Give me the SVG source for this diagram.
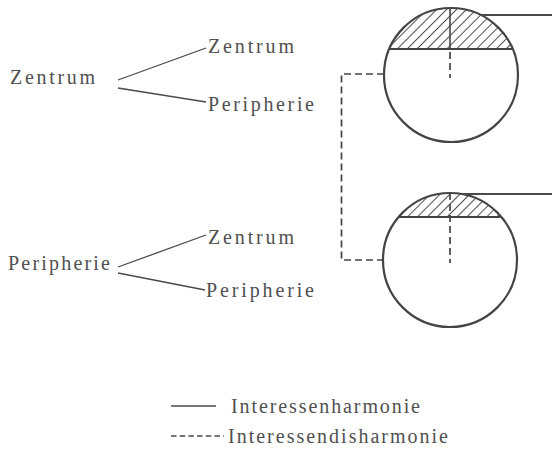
<svg xmlns="http://www.w3.org/2000/svg" width="552" height="451" viewBox="0 0 552 451">
<style>
.t{font-family:"Liberation Serif","Times New Roman",serif;font-size:20px;fill:#505050;}
.ln{stroke:#4a4a4a;stroke-width:1.3;fill:none;}
.circ{stroke:#444;stroke-width:2.2;fill:none;}
.dash{stroke:#444;stroke-width:1.7;fill:none;stroke-dasharray:7 4;}
.chord{stroke:#444;stroke-width:2;fill:none;}
</style>
<defs>
<pattern id="h" patternUnits="userSpaceOnUse" width="7" height="7" patternTransform="rotate(45)">
<line x1="0" y1="0" x2="0" y2="7" stroke="#3c3c3c" stroke-width="1.8"/>
</pattern>
<clipPath id="c1"><circle cx="451" cy="75" r="67"/></clipPath>
<clipPath id="c2"><circle cx="450" cy="260" r="67"/></clipPath>
</defs>
<rect width="552" height="451" fill="#fff"/>

<g id="top-left">
<text class="t" x="10" y="84" textLength="85" lengthAdjust="spacing">Zentrum</text>
</g>
<g id="top-zentrum">
<text class="t" x="208" y="53" textLength="86" lengthAdjust="spacing">Zentrum</text>
</g>
<g id="top-peripherie">
<text class="t" x="208" y="111" textLength="106" lengthAdjust="spacing">Peripherie</text>
</g>
<g id="bottom-left">
<text class="t" x="8" y="270" textLength="102" lengthAdjust="spacing">Peripherie</text>
</g>
<g id="bottom-zentrum">
<text class="t" x="208" y="244" textLength="86" lengthAdjust="spacing">Zentrum</text>
</g>
<g id="bottom-peripherie">
<text class="t" x="206" y="297" textLength="108" lengthAdjust="spacing">Peripherie</text>
</g>

<g id="circle-top">
<rect x="380" y="0" width="140" height="49" fill="url(#h)" clip-path="url(#c1)"/>
<circle class="circ" cx="451" cy="75" r="67"/>
<line class="chord" x1="389" y1="49" x2="513" y2="49"/>
<line class="chord" x1="450" y1="8" x2="450" y2="49" style="stroke-width:1.6"/>
<line class="dash" x1="450" y1="52" x2="450" y2="78"/>
</g>
<g id="circle-bottom">
<rect x="380" y="185" width="140" height="32" fill="url(#h)" clip-path="url(#c2)"/>
<circle class="circ" cx="450" cy="260" r="67"/>
<line class="chord" x1="399" y1="217" x2="501" y2="217"/>
<line class="dash" x1="450" y1="193" x2="450" y2="263"/>
</g>

<g id="connectors">
<line class="ln" x1="118" y1="80" x2="206" y2="48"/>
<line class="ln" x1="118" y1="88" x2="206" y2="102"/>
<line class="ln" x1="118" y1="267" x2="206" y2="235"/>
<line class="ln" x1="118" y1="273" x2="205" y2="290"/>
<line class="ln" x1="481" y1="15" x2="552" y2="15" style="stroke-width:1.8"/>
<line class="ln" x1="462" y1="194" x2="552" y2="194" style="stroke-width:1.8"/>
<path class="dash" d="M384,74 H341.5 V260 H383"/>
</g>

<g id="legend">
<line class="ln" x1="171" y1="406" x2="216" y2="406"/>
<text class="t" x="231" y="413" textLength="189" lengthAdjust="spacing">Interessenharmonie</text>
<line class="ln" x1="171" y1="436" x2="224" y2="436" style="stroke-dasharray:5.5 3.2"/>
<text class="t" x="228" y="443" textLength="220" lengthAdjust="spacing">Interessendisharmonie</text>
</g>
</svg>
